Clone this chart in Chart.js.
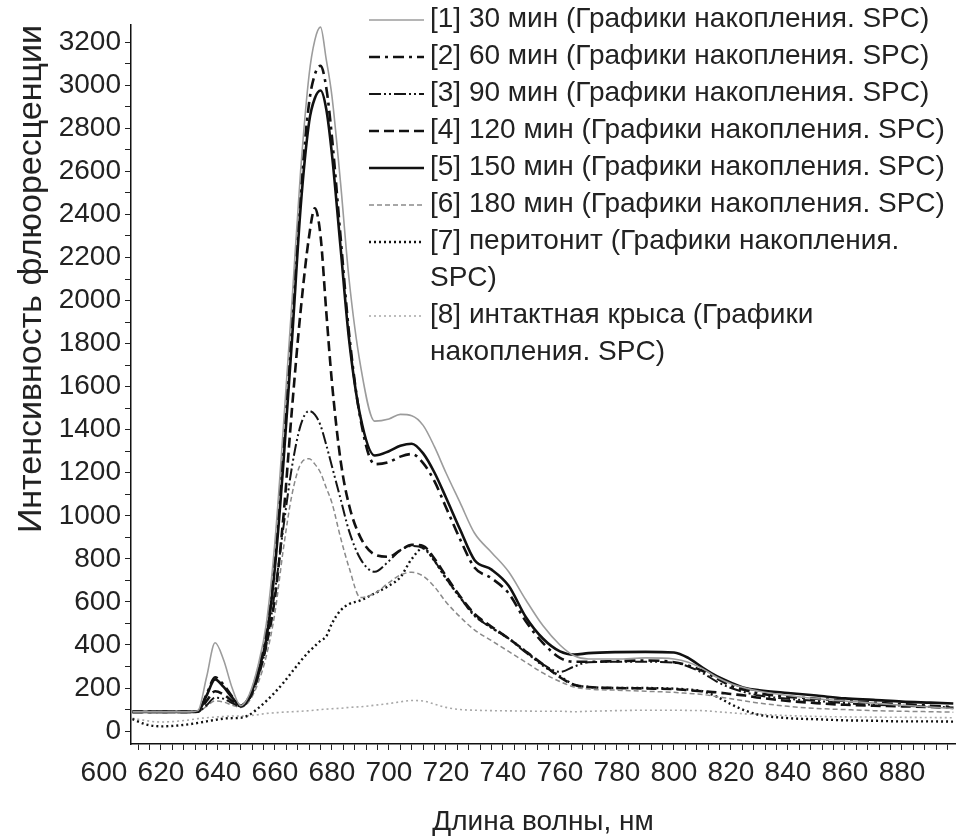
<!DOCTYPE html>
<html>
<head>
<meta charset="utf-8">
<script src="https://cdn.jsdelivr.net/npm/chart.js@4.4.1/dist/chart.umd.min.js"></script>
<style>
  html, body { margin: 0; padding: 0; background: #ffffff; }
  #wrap { width: 968px; height: 839px; }
</style>
</head>
<body>
<div id="wrap"><canvas id="c" width="968" height="839"></canvas></div>
<script>
// ---- data ----
const wavelengths = [610, 615, 620, 625, 630, 633, 636, 639, 642, 645, 648, 651, 654, 657, 660, 663, 666, 669, 672, 674, 676, 678, 680, 683, 686, 690, 695, 700, 704, 708, 712, 716, 720, 725, 730, 736, 742, 748, 754, 760, 765, 770, 780, 790, 800, 805, 810, 815, 820, 825, 830, 840, 850, 860, 870, 880, 890, 898];

const s30min = [89, 89, 89, 89, 89, 95, 250, 410, 330, 200, 118, 170, 300, 500, 880, 1420, 2000, 2600, 3050, 3210, 3270, 3120, 2950, 2550, 2100, 1700, 1440, 1450, 1471, 1465, 1420, 1320, 1200, 1060, 920, 830, 740, 610, 490, 400, 350, 335, 335, 340, 335, 320, 290, 250, 220, 200, 185, 165, 150, 140, 130, 120, 112, 105];
const s60min = [89, 89, 89, 89, 89, 92, 170, 250, 215, 160, 118, 160, 280, 460, 800, 1320, 1900, 2500, 2920, 3050, 3090, 2990, 2760, 2300, 1850, 1450, 1240, 1250, 1275, 1287, 1245, 1160, 1040, 890, 760, 710, 640, 510, 410, 340, 322, 322, 325, 328, 320, 305, 280, 245, 210, 190, 175, 160, 150, 140, 132, 125, 118, 112];
const s90min = [89, 89, 89, 89, 89, 90, 120, 155, 150, 130, 115, 150, 250, 400, 650, 950, 1230, 1420, 1487, 1470, 1420, 1330, 1230, 1080, 930, 800, 740, 790, 840, 860, 850, 790, 710, 620, 535, 480, 430, 365, 310, 275, 300, 320, 322, 322, 318, 300, 270, 230, 200, 180, 165, 150, 140, 130, 122, 118, 113, 110];
const s120min = [89, 89, 89, 89, 89, 90, 140, 185, 170, 140, 115, 150, 250, 400, 620, 1000, 1500, 1950, 2300, 2428, 2300, 1950, 1620, 1260, 1050, 900, 820, 810, 840, 865, 860, 800, 720, 625, 545, 485, 430, 370, 310, 250, 215, 205, 200, 198, 195, 190, 185, 180, 172, 165, 155, 140, 130, 122, 118, 115, 112, 108];
const s150min = [89, 89, 89, 89, 89, 92, 165, 240, 205, 155, 118, 155, 270, 430, 760, 1250, 1820, 2430, 2830, 2940, 2976, 2890, 2680, 2250, 1820, 1460, 1280, 1300, 1325, 1335, 1290, 1200, 1085, 935, 795, 750, 675, 530, 430, 370, 355, 362, 367, 368, 365, 340, 295, 255, 225, 200, 190, 177, 165, 152, 145, 137, 132, 128];
const s180min = [89, 89, 89, 89, 89, 90, 115, 140, 135, 120, 110, 140, 220, 350, 550, 850, 1100, 1240, 1265, 1240, 1200, 1130, 1060, 900, 760, 620, 640, 690, 725, 738, 720, 670, 600, 530, 470, 420, 370, 320, 270, 230, 205, 195, 190, 185, 180, 175, 170, 160, 150, 140, 130, 115, 105, 100, 95, 92, 90, 88];
const sPeritonitis = [55, 30, 22, 25, 32, 38, 45, 52, 58, 60, 62, 75, 105, 140, 180, 225, 275, 325, 370, 395, 420, 440, 500, 560, 590, 607, 640, 675, 715, 800, 850, 790, 710, 620, 540, 480, 430, 370, 305, 255, 215, 205, 200, 200, 197, 193, 185, 160, 125, 95, 75, 60, 55, 50, 48, 45, 45, 44];
const sIntact = [60, 48, 42, 45, 52, 58, 62, 65, 68, 70, 70, 72, 76, 82, 85, 88, 90, 92, 95, 97, 100, 102, 104, 106, 110, 113, 120, 128, 136, 142, 140, 125, 110, 100, 97, 95, 94, 93, 92, 92, 90, 92, 95, 97, 97, 96, 95, 90, 85, 80, 78, 72, 68, 66, 65, 64, 63, 62];

const seriesLabels = [
  ['[1] 30 мин (Графики накопления. SPC)'],
  ['[2] 60 мин (Графики накопления. SPC)'],
  ['[3] 90 мин (Графики накопления. SPC)'],
  ['[4] 120 мин (Графики накопления. SPC)'],
  ['[5] 150 мин (Графики накопления. SPC)'],
  ['[6] 180 мин (Графики накопления. SPC)'],
  ['[7] перитонит (Графики накопления.', 'SPC)'],
  ['[8] интактная крыса (Графики', 'накопления. SPC)']
];
const xTickLabels = [600, 620, 640, 660, 680, 700, 720, 740, 760, 780, 800, 820, 840, 860, 880];
const yTickLabels = [0, 200, 400, 600, 800, 1000, 1200, 1400, 1600, 1800, 2000, 2200, 2400, 2600, 2800, 3000, 3200];
const xTitle = 'Длина волны, нм';
const yTitle = 'Интенсивность флюоресценции';

// ---- styles ----
const seriesValues = [s30min, s60min, s90min, s120min, s150min, s180min, sPeritonitis, sIntact];
const seriesStyles = [
  { color: '#9c9c9c', width: 1.6, dash: [] },
  { color: '#111111', width: 2.6, dash: [11, 5, 3, 5] },
  { color: '#151515', width: 2.0, dash: [12, 3, 2, 3, 2, 3] },
  { color: '#111111', width: 2.6, dash: [10, 5] },
  { color: '#111111', width: 2.6, dash: [] },
  { color: '#8a8a8a', width: 1.5, dash: [5, 3] },
  { color: '#111111', width: 2.4, dash: [2, 3] },
  { color: '#a8a8a8', width: 1.6, dash: [2, 3] }
];

const FONT = "'Liberation Sans', Arial, sans-serif";
const X_MIN = 609.5, X_MAX = 898.6;

const datasets = seriesValues.map((vals, i) => ({
  label: seriesLabels[i].join(' '),
  data: wavelengths.map((w, k) => ({ x: w, y: vals[k] })),
  borderColor: seriesStyles[i].color,
  borderWidth: seriesStyles[i].width,
  borderDash: seriesStyles[i].dash,
  pointRadius: 0,
  fill: false,
  cubicInterpolationMode: 'monotone',
  clip: false
}));

const legendPlugin = {
  id: 'customLegend',
  afterDatasetsDraw(chart) {
    const ctx = chart.ctx;
    ctx.save();
    ctx.font = '28px ' + FONT;
    ctx.textBaseline = 'middle';
    ctx.textAlign = 'left';
    let y = 19;
    const step = 37;
    chart.data.datasets.forEach((ds, i) => {
      ctx.beginPath();
      ctx.setLineDash(ds.borderDash || []);
      ctx.lineWidth = ds.borderWidth;
      ctx.strokeStyle = ds.borderColor;
      ctx.moveTo(369, y + 1);
      ctx.lineTo(424, y + 1);
      ctx.stroke();
      ctx.setLineDash([]);
      ctx.fillStyle = '#222222';
      seriesLabels[i].forEach(line => {
        ctx.fillText(line, 430, y);
        y += step;
      });
    });
    ctx.restore();
  }
};

new Chart(document.getElementById('c'), {
  type: 'line',
  data: { datasets },
  plugins: [legendPlugin],
  options: {
    responsive: false,
    animation: false,
    devicePixelRatio: 1,
    layout: { padding: { left: 0, right: 13, top: 25, bottom: 0 } },
    plugins: { legend: { display: false }, tooltip: { enabled: false } },
    scales: {
      x: {
        type: 'linear',
        min: X_MIN,
        max: X_MAX,
        border: { color: '#111', width: 1.5 },
        grid: {
          drawOnChartArea: false,
          tickLength: 6,
          color: c => (c.tick && c.tick.value < X_MIN) ? 'rgba(0,0,0,0)' : '#222',
          lineWidth: 1
        },
        afterBuildTicks: axis => {
          const t = [{ value: xTickLabels[0] }];
          for (let v = 612; v <= 896; v += 4) t.push({ value: v });
          axis.ticks = t;
        },
        ticks: {
          autoSkip: false,
          maxRotation: 0,
          minRotation: 0,
          padding: 6,
          color: '#222',
          font: { family: FONT, size: 28 },
          callback: v => xTickLabels.includes(v) ? String(v) : ''
        },
        title: {
          display: true,
          text: xTitle,
          color: '#222',
          font: { family: FONT, size: 28, lineHeight: 1.0 },
          padding: { top: 0, bottom: 3 }
        },
        afterFit: s => { s.height = 95; }
      },
      y: {
        type: 'linear',
        min: -60,
        max: 3280,
        border: { color: '#111', width: 1.5 },
        grid: { drawOnChartArea: false, tickLength: 6, color: '#222', lineWidth: 1 },
        afterBuildTicks: axis => {
          const t = [];
          for (let v = 0; v <= 3200; v += 100) t.push({ value: v });
          axis.ticks = t;
        },
        ticks: {
          autoSkip: false,
          padding: 4,
          color: '#222',
          font: { family: FONT, size: 28 },
          callback: v => yTickLabels.includes(v) ? String(v) : ''
        },
        title: {
          display: true,
          text: yTitle,
          align: 'end',
          color: '#222',
          font: { family: FONT, size: 34, lineHeight: 1.0 },
          padding: { top: 15, bottom: 0 }
        },
        afterFit: s => { s.width = 131; }
      }
    }
  }
});
</script>
</body>
</html>
